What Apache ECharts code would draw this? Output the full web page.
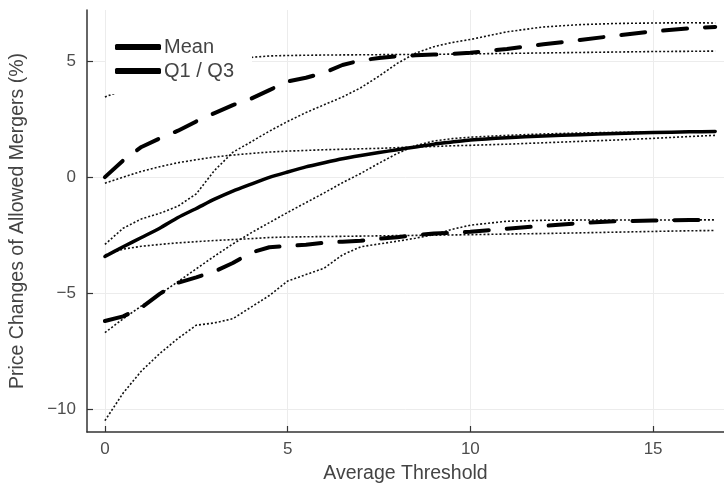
<!DOCTYPE html>
<html>
<head>
<meta charset="utf-8">
<script src="https://cdn.jsdelivr.net/npm/echarts@6/dist/echarts.min.js"></script>
<style>html,body{margin:0;padding:0;background:#fff}#c{width:724px;height:489px}</style>
</head>
<body>
<div id="c"></div>
<script>
// Average threshold (x) values
var xs = [0,0.5,1,1.5,2,2.5,3,3.5,4,4.5,5,5.5,6,6.5,7,7.5,8,8.5,9,9.5,10,11,12,13,14,15,16,16.7];
// Main series
var meanY = [-3.42,-3.0,-2.6,-2.2,-1.74,-1.35,-0.95,-0.6,-0.3,-0.01,0.22,0.44,0.62,0.79,0.93,1.06,1.18,1.3,1.42,1.51,1.6,1.7,1.77,1.83,1.88,1.92,1.95,1.97];
var q3Y = [0,0.72,1.3,1.67,2.0,2.4,2.76,3.1,3.38,3.75,4.12,4.28,4.5,4.83,5.03,5.13,5.21,5.25,5.28,5.31,5.36,5.52,5.72,5.91,6.1,6.28,6.41,6.47];
var q1Y = [-6.2,-6.0,-5.62,-5.03,-4.55,-4.32,-4.06,-3.7,-3.25,-3.02,-2.97,-2.91,-2.83,-2.78,-2.74,-2.65,-2.59,-2.5,-2.43,-2.4,-2.35,-2.22,-2.1,-1.98,-1.9,-1.87,-1.85,-1.84];
// Dotted bands (wide and flat variants)
var q3Wide = [-2.9,-2.2,-1.8,-1.56,-1.25,-0.72,0.29,1.07,1.52,1.98,2.4,2.78,3.12,3.45,3.85,4.35,4.9,5.34,5.62,5.8,5.93,6.26,6.47,6.57,6.62,6.64,6.65,6.64];
var q3Flat = [3.45,3.75,4.05,4.3,4.52,4.7,4.86,5.0,5.16,5.22,5.24,5.25,5.26,5.265,5.27,5.275,5.28,5.285,5.29,5.3,5.31,5.33,5.35,5.37,5.39,5.41,5.42,5.43];
var meanWide = [-6.7,-6.1,-5.55,-5.05,-4.5,-3.95,-3.4,-2.88,-2.4,-1.96,-1.52,-1.1,-0.68,-0.24,0.16,0.6,1.02,1.36,1.56,1.66,1.72,1.8,1.86,1.9,1.93,1.95,1.96,1.97];
var meanFlat = [-0.26,0.0,0.25,0.45,0.62,0.75,0.87,0.95,1.02,1.08,1.12,1.15,1.18,1.2,1.22,1.24,1.27,1.3,1.32,1.35,1.37,1.42,1.48,1.54,1.6,1.67,1.75,1.8];
var q1Wide = [-10.49,-9.3,-8.35,-7.6,-6.95,-6.38,-6.28,-6.1,-5.6,-5.1,-4.48,-4.2,-3.92,-3.35,-3.0,-2.88,-2.76,-2.63,-2.48,-2.25,-2.07,-1.9,-1.86,-1.85,-1.85,-1.85,-1.84,-1.84];
var q1Flat = [-3.35,-3.1,-2.98,-2.9,-2.83,-2.78,-2.73,-2.69,-2.65,-2.6,-2.58,-2.57,-2.56,-2.55,-2.54,-2.53,-2.52,-2.51,-2.5,-2.49,-2.48,-2.45,-2.43,-2.4,-2.37,-2.34,-2.31,-2.3];
// Tick labels
var xTicks = [0,5,10,15];
var yTicks = [-10,-5,0,5];
var legendNames = ['Mean','Q1 / Q3'];

function pairs(ys){ return xs.map(function(x,i){ return [x, ys[i]]; }); }
var FONT = '"Liberation Sans", Arial, Helvetica, sans-serif';

function dotted(name, ys){
  return { name: name, type:'line', data: pairs(ys), showSymbol:false, symbol:'none', z:2,
    lineStyle:{ color:'#111', width:1.6, type:[2,2] }, silent:true };
}

var chart = echarts.init(document.getElementById('c'), null, {renderer:'canvas'});
chart.setOption({
  animation:false,
  backgroundColor:'#fff',
  grid:{ left:87, right:0, top:10, bottom:57, containLabel:false },
  legend:{
    data: legendNames,
    orient:'vertical', left:106, top:26,
    backgroundColor:'#fff',
    padding:[11,18,13,9],
    itemWidth:46, itemHeight:6, itemGap:4,
    icon:'roundRect',
    itemStyle:{ color:'#000', borderWidth:0 },
    lineStyle:{ type:'solid' },
    textStyle:{ fontFamily:FONT, fontSize:20, color:'#444', lineHeight:20, padding:[0,0,0,-2] },
    z:10
  },
  xAxis:{
    type:'value', min:-0.49, max:16.94,
    name:'Average Threshold', nameLocation:'middle', nameGap:32,
    nameTextStyle:{ fontFamily:FONT, fontSize:19.5, color:'#444' },
    axisLine:{ show:true, onZero:false, lineStyle:{ color:'#333', width:1.5 } },
    axisTick:{ show:true, inside:true, length:6, customValues:xTicks, lineStyle:{ color:'#333', width:1.2 } },
    axisLabel:{ customValues:xTicks, fontFamily:FONT, fontSize:17, color:'#4d4d4d', margin:9 },
    splitLine:{ show:true, lineStyle:{ color:'#ececec', width:1 } }
  },
  yAxis:{
    type:'value', min:-10.98, max:7.2,
    name:'Price Changes of Allowed Mergers (%)', nameLocation:'middle', nameGap:59,
    nameTextStyle:{ fontFamily:FONT, fontSize:19.5, color:'#444' },
    axisLine:{ show:true, onZero:false, lineStyle:{ color:'#333', width:1.5 } },
    axisTick:{ show:true, inside:true, length:6, customValues:yTicks, lineStyle:{ color:'#333', width:1.2 } },
    axisLabel:{ customValues:yTicks, fontFamily:FONT, fontSize:17, color:'#4d4d4d', margin:11,
      formatter:function(v){ return String(v).replace('-', '\u2212'); } },
    splitLine:{ show:true, lineStyle:{ color:'#ececec', width:1 } }
  },
  series:[
    dotted('q3Flat', q3Flat),
    dotted('q3Wide', q3Wide),
    dotted('meanFlat', meanFlat),
    dotted('meanWide', meanWide),
    dotted('q1Flat', q1Flat),
    dotted('q1Wide', q1Wide),
    { name:'Q1 / Q3', type:'line', data:pairs(q3Y), showSymbol:false, symbol:'none', z:3,
      lineStyle:{ color:'#000', width:4, type:[24,18], cap:'round' }, itemStyle:{color:'#000'} },
    { name:'Q1 / Q3', type:'line', data:pairs(q1Y), showSymbol:false, symbol:'none', z:3,
      lineStyle:{ color:'#000', width:4, type:[24,18], cap:'round' }, itemStyle:{color:'#000'} },
    { name:'Mean', type:'line', data:pairs(meanY), showSymbol:false, symbol:'none', z:3, smooth:0.2,
      lineStyle:{ color:'#000', width:3.5, type:'solid', cap:'round' }, itemStyle:{color:'#000'} }
  ]
});
</script>
</body>
</html>
